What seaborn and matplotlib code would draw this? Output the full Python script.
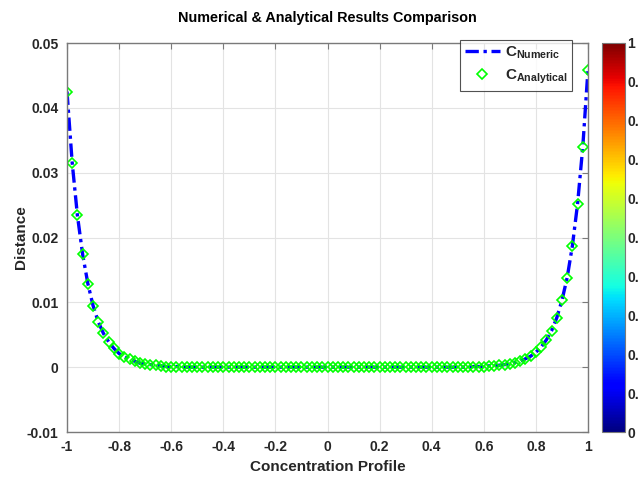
import numpy as np
import pandas as pd
import matplotlib
matplotlib.use("Agg")
import matplotlib.pyplot as plt
import matplotlib as mpl
import seaborn as sns

# ---------------- data ----------------
x_values = np.linspace(-1.0, 1.0, 101)

c_numeric = [
    0.0425, 0.0315, 0.0234, 0.0174, 0.0129, 0.0095, 0.0070, 0.0052, 0.0039, 0.0029,
    0.0021, 0.0016, 0.0012, 0.0009, 0.0006, 0.0005, 0.0004, 0.0003, 0.0002, 0.0001,
    0.0001, 0.0001, 0.0001, 0.0000, 0.0000,
    0.0, 0.0, 0.0, 0.0, 0.0, 0.0, 0.0, 0.0, 0.0, 0.0,
    0.0, 0.0, 0.0, 0.0, 0.0, 0.0, 0.0, 0.0, 0.0, 0.0,
    0.0, 0.0, 0.0, 0.0, 0.0, 0.0, 0.0, 0.0, 0.0, 0.0,
    0.0, 0.0, 0.0, 0.0, 0.0, 0.0, 0.0, 0.0, 0.0, 0.0,
    0.0, 0.0, 0.0, 0.0, 0.0, 0.0, 0.0, 0.0, 0.0, 0.0,
    0.0,
    0.0000, 0.0000, 0.0001, 0.0001, 0.0001, 0.0002, 0.0002, 0.0003, 0.0004, 0.0005,
    0.0007, 0.0009, 0.0013, 0.0017, 0.0023, 0.0031, 0.0042, 0.0056, 0.0076, 0.0103,
    0.0138, 0.0187, 0.0252, 0.0340, 0.0459,
]
c_analytical = list(c_numeric)

x_ticks = [-1, -0.8, -0.6, -0.4, -0.2, 0, 0.2, 0.4, 0.6, 0.8, 1]
x_tick_labels = ["-1", "-0.8", "-0.6", "-0.4", "-0.2", "0", "0.2", "0.4", "0.6", "0.8", "1"]
y_ticks = [-0.01, 0, 0.01, 0.02, 0.03, 0.04, 0.05]
y_tick_labels = ["-0.01", "0", "0.01", "0.02", "0.03", "0.04", "0.05"]
cbar_ticks = [0, 0.1, 0.2, 0.3, 0.4, 0.5, 0.6, 0.7, 0.8, 0.9, 1]
cbar_tick_labels = ["0", "0.1", "0.2", "0.3", "0.4", "0.5", "0.6", "0.7", "0.8", "0.9", "1"]

df = pd.DataFrame({"x": x_values, "num": c_numeric, "ana": c_analytical})

# ---------------- style ----------------
sns.set_style("white")
plt.rcParams["font.family"] = ["Liberation Sans", "DejaVu Sans"]
plt.rcParams["font.weight"] = "bold"
plt.rcParams["mathtext.fontset"] = "custom"
plt.rcParams["mathtext.rm"] = "Liberation Sans:bold"
plt.rcParams["mathtext.bf"] = "Liberation Sans:bold"
plt.rcParams["mathtext.it"] = "Liberation Sans:bold"

W, H = 638, 478
fig = plt.figure(figsize=(W / 100, H / 100), dpi=100)
ax = fig.add_axes([67 / W, 1 - 432 / H, (588 - 67) / W, (432 - 43) / H])

sns.lineplot(data=df, x="x", y="num", ax=ax, color="#0000FF", linewidth=2.4,
             linestyle=(0, (4.0, 1.4, 1.0, 1.4)), label=r"$\mathbf{C_{Numeric}}$")
sns.lineplot(data=df, x="x", y="ana", ax=ax, color="#00FF00", marker="D",
             linestyle="none", markerfacecolor="none", markeredgecolor="#00FF00",
             markeredgewidth=1.2, markersize=5.4, label=r"$\mathbf{C_{Analytical}}$")

ax.set_xlim(-1, 1)
ax.set_ylim(-0.01, 0.05)
ax.set_xticks(x_ticks)
ax.set_xticklabels(x_tick_labels)
ax.set_yticks(y_ticks)
ax.set_yticklabels(y_tick_labels)
ax.grid(True, color="#e3e3e3", linewidth=0.8)
ax.set_axisbelow(True)
for s in ax.spines.values():
    s.set_visible(True)
    s.set_color("#7a7a7a")
    s.set_linewidth(1.0)
ax.tick_params(direction="in", length=4, width=0.8, color="#7a7a7a",
               top=True, right=True, labelsize=10, labelcolor="#262626", pad=6)
for lab in ax.get_xticklabels() + ax.get_yticklabels():
    lab.set_fontweight("bold")

ax.set_title("Numerical & Analytical Results Comparison", fontsize=10.4,
             fontweight="bold", pad=15, color="black")
ax.set_xlabel("Concentration Profile", fontsize=11, fontweight="bold", labelpad=4, color="#262626")
ax.set_ylabel("Distance", fontsize=11, fontweight="bold", labelpad=-1, color="#262626")

leg = ax.legend(loc="upper right", fontsize=11, frameon=True, fancybox=False,
                bbox_to_anchor=(572 / W, 1 - 40 / H), bbox_transform=fig.transFigure,
                borderaxespad=0.0, handlelength=2.3, labelspacing=0.45,
                borderpad=0.3, handletextpad=0.3)
leg.get_frame().set_edgecolor("#262626")
leg.get_frame().set_linewidth(0.8)

# colorbar
cax = fig.add_axes([602 / W, 1 - 432 / H, (625 - 602) / W, (432 - 43) / H])
cb = mpl.colorbar.ColorbarBase(cax, cmap=plt.get_cmap("jet"),
                               norm=mpl.colors.Normalize(0, 1), orientation="vertical")
cb.set_ticks(cbar_ticks)
cb.set_ticklabels(cbar_tick_labels)
cb.outline.set_edgecolor("#7a7a7a")
cb.outline.set_linewidth(0.8)
cax.tick_params(direction="in", length=3, width=0.8, color="#555555",
                labelsize=10, labelcolor="#262626", pad=1.5)
for lab in cax.get_yticklabels():
    lab.set_fontweight("bold")

fig.savefig("out.png", dpi=100)
